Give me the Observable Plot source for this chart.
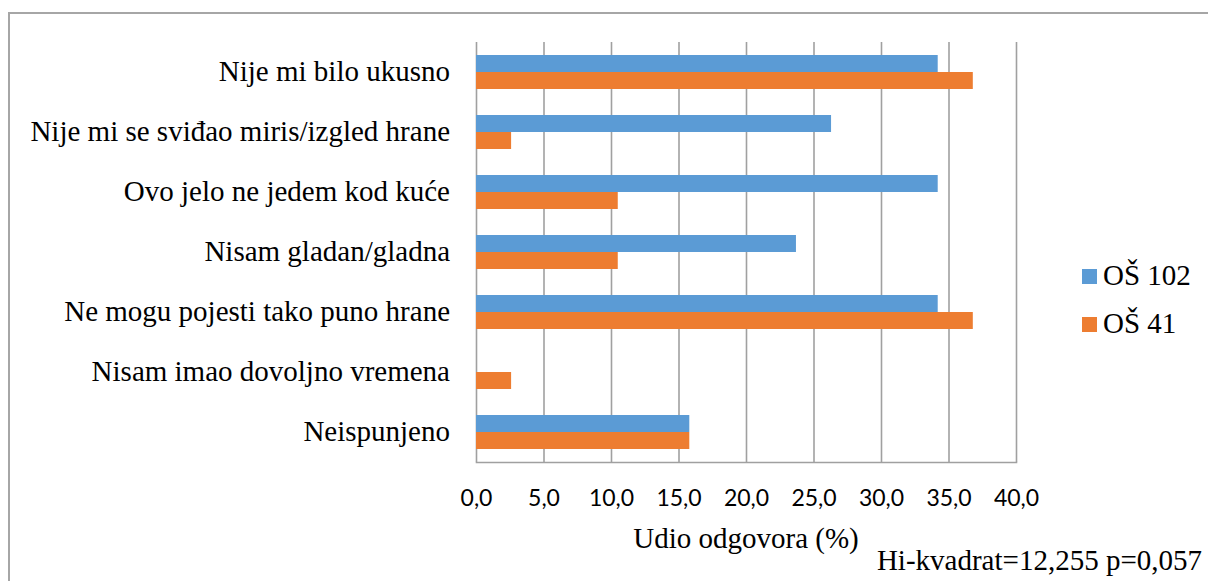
<!DOCTYPE html>
<html>
<head>
<meta charset="utf-8">
<script src="https://cdn.jsdelivr.net/npm/d3@7"></script>
<script src="https://cdn.jsdelivr.net/npm/@observablehq/plot@0.6"></script>
<style>
  html, body { margin: 0; padding: 0; background: #fff; overflow: hidden; }
  #wrap { position: relative; width: 1208px; height: 581px; overflow: hidden; }
  #border { position: absolute; left: 8px; top: 12px; width: 1400px; height: 800px;
            border: 2px solid #a6a6a6; box-sizing: border-box; pointer-events: none; }
  .serif { font-family: "Liberation Serif", "Times New Roman", serif; font-size: 29px; color: #000;
           line-height: 29px; white-space: nowrap; position: absolute; }
  .swatch { position: absolute; width: 15px; height: 15px; }
</style>
</head>
<body>
<div id="wrap"><div id="border"></div></div>
<script>
// ---- data ----
const categories = [
  "Nije mi bilo ukusno",
  "Nije mi se sviđao miris/izgled hrane",
  "Ovo jelo ne jedem kod kuće",
  "Nisam gladan/gladna",
  "Ne mogu pojesti tako puno hrane",
  "Nisam imao dovoljno vremena",
  "Neispunjeno"
];
const series = ["OŠ 102", "OŠ 41"];
const colors = ["#5B9BD5", "#ED7D31"];
const valuesOS102 = [34.2, 26.3, 34.2, 23.7, 34.2, 0, 15.8];
const valuesOS41  = [36.8, 2.6, 10.5, 10.5, 36.8, 2.6, 15.8];
const xTicks = [0, 5, 10, 15, 20, 25, 30, 35, 40];
const xLabel = "Udio odgovora (%)";
const captionText = "Hi-kvadrat=12,255 p=0,057";

// tidy table built from the arrays
const rows = [];
categories.forEach((c, i) => {
  rows.push({category: c, series: series[0], value: valuesOS102[i]});
  rows.push({category: c, series: series[1], value: valuesOS41[i]});
});

const gridColor = "#a0a0a0";
const fmt = d => d.toFixed(1).replace(".", ",");

const chart = Plot.plot({
  width: 1208,
  height: 581,
  marginLeft: 476,
  marginRight: 192,
  marginTop: 42,
  marginBottom: 119,
  style: {background: "transparent", color: "#000", overflow: "visible"},
  x: {domain: [0, 40], label: null},
  y: {domain: categories, padding: 0, axis: null},
  color: {domain: series, range: colors},
  marks: [
    Plot.gridX(xTicks, {stroke: gridColor, strokeOpacity: 1, strokeWidth: 1.6}),
    Plot.frame({anchor: "bottom", stroke: gridColor, strokeWidth: 1.6}),
    Plot.barX(rows.filter(d => d.series === series[0]), {
      x: "value", y: "category", fill: "series", insetTop: 13, insetBottom: 30
    }),
    Plot.barX(rows.filter(d => d.series === series[1]), {
      x: "value", y: "category", fill: "series", insetTop: 30, insetBottom: 13
    }),
    Plot.axisX(xTicks, {
      tickSize: 0, tickPadding: 27, fontSize: 23, fontFamily: "Lato",
      tickFormat: fmt, label: null
    })
  ]
});

const wrap = document.getElementById("wrap");
chart.style.position = "absolute";
chart.style.left = "0px";
chart.style.top = "0px";
wrap.appendChild(chart);

// serif texts (category labels, axis title) placed with the chart's own scales
const yScale = chart.scale("y");
const xScale = chart.scale("x");
const bw = yScale.bandwidth || 0;
categories.forEach(c => {
  const center = yScale.apply(c) + bw / 2;
  const d = document.createElement("div");
  d.className = "serif";
  d.style.right = (1208 - (xScale.apply(0) - 26)) + "px";
  d.style.top = (center - 15) + "px";
  d.style.textAlign = "right";
  d.textContent = c;
  wrap.appendChild(d);
});

const xMid = (xScale.apply(0) + xScale.apply(40)) / 2;
const title = document.createElement("div");
title.className = "serif";
title.style.left = (xMid - 300) + "px";
title.style.width = "600px";
title.style.textAlign = "center";
title.style.top = "524px";
title.textContent = xLabel;
wrap.appendChild(title);

// legend (right side)
const legendTop = [269, 317];
series.forEach((s, i) => {
  const sw = document.createElement("div");
  sw.className = "swatch";
  sw.style.left = "1082px";
  sw.style.top = legendTop[i] + "px";
  sw.style.background = colors[i];
  wrap.appendChild(sw);
  const t = document.createElement("div");
  t.className = "serif";
  t.style.left = "1103px";
  t.style.top = (legendTop[i] - 8) + "px";
  t.textContent = s;
  wrap.appendChild(t);
});

// caption (bottom right)
const cap = document.createElement("div");
cap.className = "serif";
cap.style.right = "6px";
cap.style.top = "546px";
cap.textContent = captionText;
wrap.appendChild(cap);
</script>
</body>
</html>
